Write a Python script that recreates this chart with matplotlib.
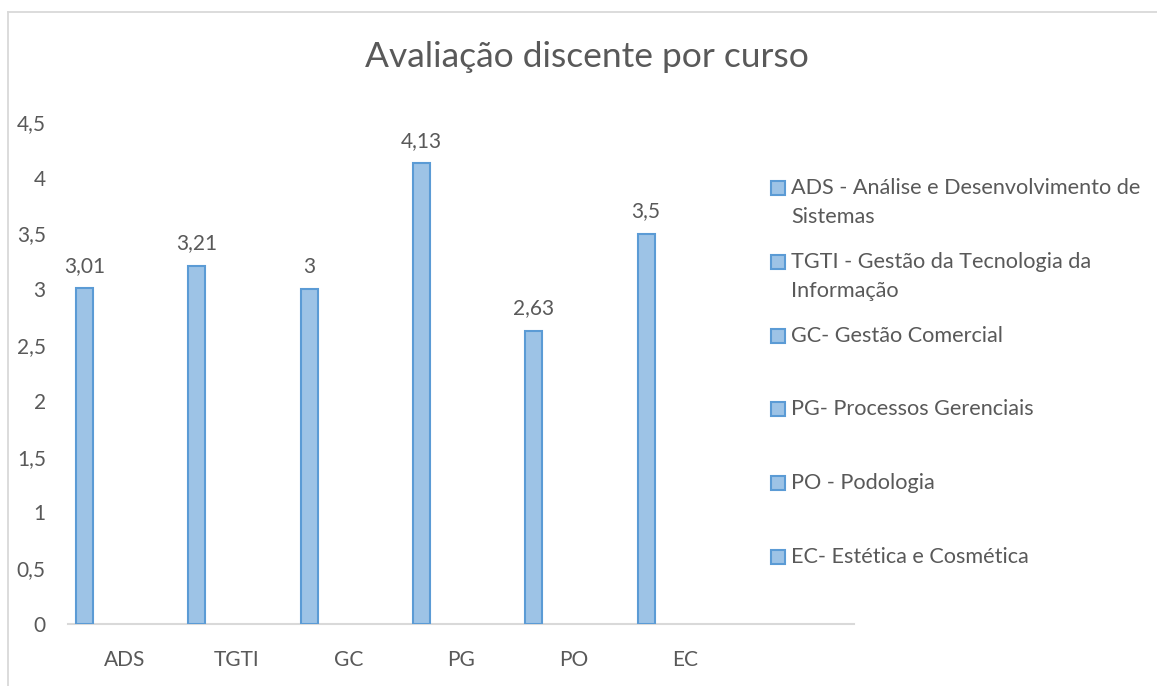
import matplotlib
matplotlib.use("Agg")
import matplotlib.pyplot as plt
from matplotlib.patches import Rectangle
from matplotlib.lines import Line2D

categories = ["ADS", "TGTI", "GC", "PG", "PO", "EC"]
values = [3.01, 3.21, 3.00, 4.13, 2.63, 3.50]
value_labels = ["3,01", "3,21", "3", "4,13", "2,63", "3,5"]
legend_labels = [
    "ADS - Análise e Desenvolvimento de\nSistemas",
    "TGTI - Gestão da Tecnologia da\nInformação",
    "GC- Gestão Comercial",
    "PG- Processos Gerenciais",
    "PO - Podologia",
    "EC- Estética e Cosmética",
]
yticks = [0, 0.5, 1, 1.5, 2, 2.5, 3, 3.5, 4, 4.5]
ytick_labels = ["0", "0,5", "1", "1,5", "2", "2,5", "3", "3,5", "4", "4,5"]
title = "Avaliação discente por curso"

W, H = 1157, 686
FONT = "Lato"
TXT = "#595959"
FILL = "#9DC3E6"
EDGE = "#5B9BD5"
GRID = "#D9D9D9"
FS = 15
LFS = 15.6

fig = plt.figure(figsize=(W / 100, H / 100), dpi=100)
fig.patch.set_facecolor("white")

# chart border (left and top visible)
fig.add_artist(Line2D([8 / W, 8 / W], [0, 1 - 12 / H], transform=fig.transFigure,
                      color=GRID, lw=1.3))
fig.add_artist(Line2D([8 / W, 1], [1 - 12 / H, 1 - 12 / H], transform=fig.transFigure,
                      color=GRID, lw=1.3))

x0, x1 = 68, 854
y0, y1 = 624, 122
ax = fig.add_axes([x0 / W, 1 - y0 / H, (x1 - x0) / W, (y0 - y1) / H])
ax.set_xlim(-0.5, 6.5)
ax.set_ylim(0, 4.5)

offset = -0.352
width = 0.151
xs = [i + offset for i in range(len(categories))]
bars = ax.bar(xs, values, width=width, color=FILL, edgecolor=EDGE, linewidth=1.5, zorder=3)
for b, lab in zip(bars, value_labels):
    ax.annotate(lab, (b.get_x() + b.get_width() / 2, b.get_height()),
                xytext=(0, 9), textcoords="offset points", ha="center", va="bottom",
                fontsize=FS, color=TXT, family=FONT)

for s in ["top", "right", "left"]:
    ax.spines[s].set_visible(False)
ax.spines["bottom"].set_color(GRID)
ax.spines["bottom"].set_linewidth(1.5)

ax.set_xticks(range(len(categories)))
ax.set_xticklabels(categories, fontsize=FS, color=TXT, family=FONT)
ax.set_yticks(yticks)
ax.set_yticklabels(ytick_labels, fontsize=FS, color=TXT, family=FONT)
ax.tick_params(axis="x", length=0, pad=19)
ax.tick_params(axis="y", length=0, pad=16)

fig.text(587 / W, 1 - 57 / H, title, ha="center", va="center", fontsize=25.5,
         color=TXT, family=FONT)

# legend drawn manually: entries at fixed spacing
ly0 = 188
lstep = 73.8
lline = 29
for i, lab in enumerate(legend_labels):
    yc = ly0 + i * lstep
    fig.add_artist(Rectangle((771 / W, 1 - (yc + 7) / H), 14 / W, 14 / H,
                             transform=fig.transFigure, facecolor=FILL,
                             edgecolor=EDGE, linewidth=1.5))
    for j, line in enumerate(lab.split("\n")):
        fig.text(791 / W, 1 - (yc + j * lline) / H, line, ha="left", va="center",
                 fontsize=LFS, color=TXT, family=FONT)

fig.savefig("out.png", dpi=100, facecolor="white")
